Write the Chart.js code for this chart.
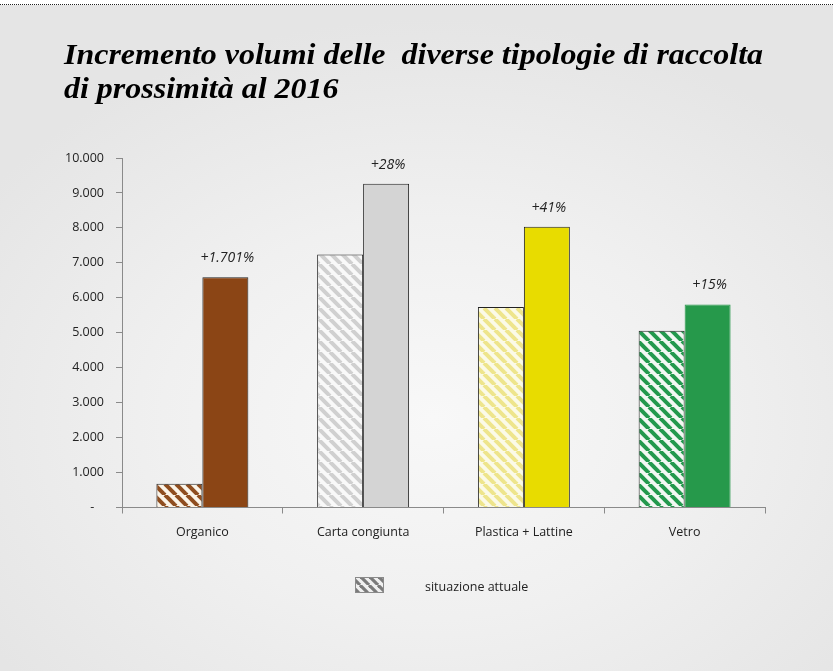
<!DOCTYPE html>
<html><head><meta charset="utf-8">
<script src="https://cdn.jsdelivr.net/npm/chart.js@4.4.1/dist/chart.umd.min.js"></script>
<style>
html,body{margin:0;padding:0;background:#fff;}
#bg{position:absolute;left:0;top:5px;width:833px;height:666px;background:radial-gradient(ellipse 65% 60% at 52% 62%, #f8f8f8 0%, #f0f0f0 50%, #e5e5e5 100%);}
#dots{position:absolute;left:0;top:4px;width:833px;height:0;border-top:1px dotted #222;}
#wrap{position:absolute;left:0;top:0;width:838px;height:671px;}
</style></head>
<body>
<div id="bg"></div><div id="dots"></div>
<div id="wrap"><canvas id="c" width="838" height="671"></canvas></div>
<script>
const categories = ['Organico', 'Carta congiunta', 'Plastica + Lattine', 'Vetro'];
const situazioneAttuale = [680, 7240, 5740, 5060];
const previsione2016 = [6590, 9260, 8030, 5810];
const incrementi = ['+1.701%', '+28%', '+41%', '+15%'];
const titleLines = ['Incremento volumi delle  diverse tipologie di raccolta', 'di prossimità al 2016'];
const legendLabel = 'situazione attuale';

function hatch(bg, fg, s, lw) {
  const c = document.createElement('canvas');
  c.width = s; c.height = s;
  const x = c.getContext('2d');
  x.fillStyle = bg; x.fillRect(0, 0, s, s);
  x.strokeStyle = fg; x.lineWidth = lw;
  for (const k of [-s, 0, s]) { x.beginPath(); x.moveTo(k, 0); x.lineTo(k + s, s); x.stroke(); }
  return x.createPattern(c, 'repeat');
}
const hatchFill = [
  hatch('#fbf4e8', '#8f4d1e', 11, 4),
  hatch('#f9f9f9', '#d0d0d0', 11, 4),
  hatch('#fbfae8', '#eee58c', 11, 4),
  hatch('#f3f8f3', '#23994d', 11, 4)
];
const solidFill = ['#8b4515', '#d4d4d4', '#e8dc00', '#26994b'];
const solidBorder = ['#222', '#222', '#222', '#26994b'];

const fmt = v => v === 0 ? '-   ' : String(v).replace(/\B(?=(\d{3})+(?!\d))/g, '.');

const decor = {
  id: 'decor',
  afterDraw(chart) {
    const ctx = chart.ctx;
    // title
    ctx.save();
    ctx.font = 'italic bold 29px "Liberation Serif"';
    ctx.fillStyle = '#000';
    ctx.textBaseline = 'alphabetic';
    const w = ctx.measureText(titleLines[0]).width;
    const sx = 699 / w;
    [[titleLines[0], 64], [titleLines[1], 98]].forEach(([t, y]) => {
      ctx.save(); ctx.translate(64, y); ctx.scale(sx, 1); ctx.fillText(t, 0, 0); ctx.restore();
    });
    ctx.restore();
    // increment labels
    const meta = chart.getDatasetMeta(1);
    ctx.save();
    ctx.font = 'italic 14px "Open Sans"';
    ctx.fillStyle = '#222';
    ctx.textAlign = 'center'; ctx.textBaseline = 'middle';
    meta.data.forEach((el, i) => ctx.fillText(incrementi[i], el.x + 2, el.y - 19));
    ctx.restore();
    // legend
    ctx.save();
    ctx.fillStyle = hatch('#f0f0f0', '#7a7a7a', 9, 3.2);
    ctx.fillRect(355, 577, 29, 16);
    ctx.strokeStyle = '#8a8a8a'; ctx.lineWidth = 1;
    ctx.strokeRect(355.5, 577.5, 28, 15);
    ctx.font = '12.5px "Open Sans"'; ctx.fillStyle = '#222';
    ctx.textBaseline = 'middle'; ctx.textAlign = 'left';
    ctx.fillText(legendLabel, 425, 587);
    ctx.restore();
  }
};

new Chart(document.getElementById('c'), {
  type: 'bar',
  data: {
    labels: categories,
    datasets: [
      { label: legendLabel, data: situazioneAttuale, backgroundColor: hatchFill, borderColor: '#222', borderWidth: 1 },
      { label: 'previsione 2016', data: previsione2016, backgroundColor: solidFill, borderColor: solidBorder, borderWidth: 1 }
    ]
  },
  options: {
    responsive: false,
    animation: false,
    events: [],
    layout: { padding: { left: 0, top: 158, right: 73, bottom: 123.5 } },
    datasets: { bar: { barPercentage: 1, categoryPercentage: 0.572 } },
    plugins: { legend: { display: false }, tooltip: { enabled: false }, title: { display: false } },
    scales: {
      x: {
        afterFit(s) { s.height = 40; },
        grid: { offset: true, drawOnChartArea: false, tickLength: 6, color: '#8a8a8a' },
        border: { color: '#8a8a8a', width: 1 },
        ticks: { color: '#222', font: { family: 'Open Sans', size: 12.5 }, padding: 11 }
      },
      y: {
        min: 0, max: 10000,
        afterFit(s) { s.width = 122; },
        grid: { drawOnChartArea: false, tickLength: 6, color: '#8a8a8a' },
        border: { color: '#8a8a8a', width: 1 },
        ticks: { stepSize: 1000, color: '#222', font: { family: 'Open Sans', size: 12.5 }, padding: 12, callback: v => fmt(v) }
      }
    }
  },
  plugins: [decor]
});
</script>
</body></html>
